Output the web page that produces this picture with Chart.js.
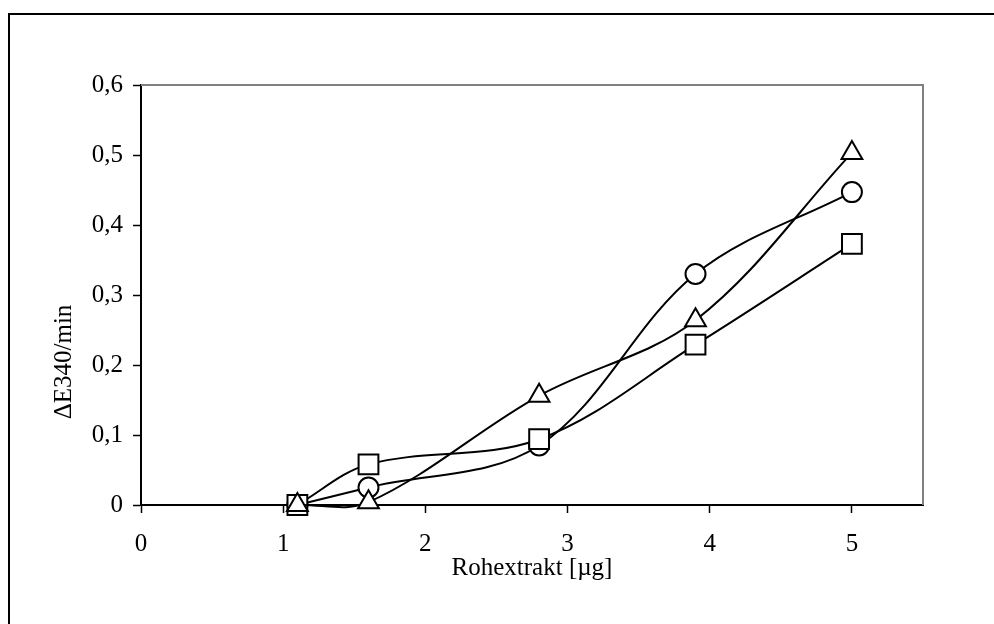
<!DOCTYPE html>
<html>
<head>
<meta charset="utf-8">
<script src="https://cdn.jsdelivr.net/npm/chart.js@4/dist/chart.umd.min.js"></script>
<style>
  html, body { margin: 0; padding: 0; background: #fff; overflow: hidden; }
  #wrap { position: relative; width: 994px; height: 624px; }
  #frame {
    position: absolute; left: 8px; top: 13px; width: 1200px; height: 800px;
    border-left: 2px solid #000; border-top: 2px solid #000; pointer-events: none;
  }
</style>
</head>
<body>
<div id="wrap">
  <canvas id="grafico" width="994" height="624"></canvas>
  <div id="frame"></div>
</div>
<script>
// Rohextrakt-Menge [µg]
const mengen = [1.1, 1.6, 2.8, 3.9, 5];
// ΔE340/min je Messreihe
const reiheKreis = [0, 0.025, 0.085, 0.33, 0.447];
const reiheQuadrat = [0, 0.058, 0.094, 0.229, 0.373];
const reiheDreieck = [0, 0.004, 0.156, 0.264, 0.503];

const yTitel = 'ΔE340/min';
const xTitel = 'Rohextrakt [µg]';
const schrift = '"Liberation Serif", "Times New Roman", serif';
const groesse = 25;

function punkte(werte) {
    return mengen.map((x, i) => ({ x: x, y: werte[i] }));
}

function reihe(werte, stil, radius) {
    return {
        data: punkte(werte),
        borderColor: '#000',
        borderWidth: 2,
        backgroundColor: '#fff',
        pointStyle: stil,
        pointRadius: radius,
        pointHoverRadius: radius,
        pointBorderWidth: 2,
        pointBorderColor: '#000',
        pointBackgroundColor: '#fff',
        tension: 0.35,
        clip: false
    };
}

// grauer Rahmen oben/rechts und gedrehter Achsentitel
const rahmen = {
    id: 'rahmen',
    beforeDatasetsDraw(chart) {
        const { ctx, chartArea: a } = chart;
        ctx.save();
        ctx.strokeStyle = '#808080';
        ctx.lineWidth = 2;
        ctx.beginPath();
        ctx.moveTo(a.left, a.top);
        ctx.lineTo(a.right, a.top);
        ctx.lineTo(a.right, a.bottom);
        ctx.stroke();
        ctx.restore();
    },
    afterDraw(chart) {
        const { ctx } = chart;
        ctx.save();
        ctx.translate(64, 362);
        ctx.rotate(-Math.PI / 2);
        ctx.font = groesse + 'px ' + schrift;
        ctx.fillStyle = '#000';
        ctx.textAlign = 'center';
        ctx.textBaseline = 'middle';
        ctx.fillText(yTitel, 0, 0);
        ctx.restore();
    }
};

new Chart(document.getElementById('grafico').getContext('2d'), {
    type: 'line',
    data: {
        // Reihenfolge: erstes Dataset liegt oben
        datasets: [
            reihe(reiheDreieck, 'triangle', 12),
            reihe(reiheQuadrat, 'rect', 14),
            reihe(reiheKreis, 'circle', 10)
        ]
    },
    options: {
        responsive: false,
        animation: false,
        events: [],
        layout: { padding: { left: 0, top: 85, right: 71, bottom: 41 } },
        elements: { line: { capBezierPoints: false } },
        plugins: {
            legend: { display: false },
            tooltip: { enabled: false },
            title: { display: false }
        },
        scales: {
            x: {
                type: 'linear',
                min: 0,
                max: 5.5,
                afterFit(scale) { scale.height = 78; },
                border: { color: '#000', width: 2 },
                grid: { drawOnChartArea: false, drawTicks: true, tickLength: 8, color: '#000', tickWidth: 1.5 },
                ticks: {
                    stepSize: 1,
                    includeBounds: false,
                    padding: 16,
                    color: '#000',
                    font: { family: schrift, size: groesse }
                },
                title: {
                    display: true,
                    text: xTitel,
                    color: '#000',
                    padding: 0,
                    font: { family: schrift, size: groesse }
                }
            },
            y: {
                min: 0,
                max: 0.6,
                afterFit(scale) { scale.width = 141; },
                border: { color: '#000', width: 2 },
                grid: { drawOnChartArea: false, drawTicks: true, tickLength: 8, color: '#000', tickWidth: 1.5 },
                ticks: {
                    stepSize: 0.1,
                    padding: 10,
                    color: '#000',
                    font: { family: schrift, size: groesse },
                    callback: (v) => v === 0 ? '0' : v.toFixed(1).replace('.', ',')
                }
            }
        }
    },
    plugins: [rahmen]
});
</script>
</body>
</html>
